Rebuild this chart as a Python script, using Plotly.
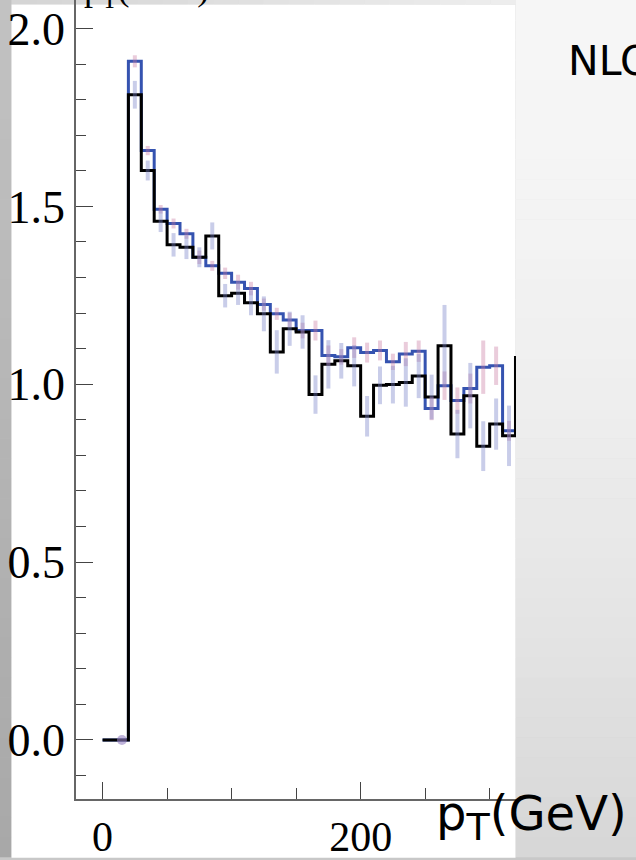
import plotly.graph_objects as go

# --- histogram data: ratio per 10 GeV bin of p_T -------------------------
bin_width = 10
nlo_edges = [0, 10, 20, 30, 40, 50, 60, 70, 80, 90, 100, 110, 120, 130, 140, 150,
             160, 170, 180, 190, 200, 210, 220, 230, 240, 250, 260, 270, 280, 290,
             300, 310, 320]
nlo_values = [0.0, 0.0, 1.814, 1.601, 1.458, 1.392, 1.385, 1.357, 1.417, 1.249,
              1.256, 1.229, 1.198, 1.091, 1.156, 1.147, 0.971, 1.056, 1.066, 1.052,
              0.910, 0.997, 0.999, 1.005, 1.023, 0.964, 1.108, 0.860, 0.968, 0.826,
              0.888, 0.855, 1.075]
nlo_errors = [0.0, 0.0, 0.039, 0.028, 0.030, 0.033, 0.033, 0.028, 0.038, 0.033,
              0.033, 0.035, 0.049, 0.061, 0.048, 0.047, 0.054, 0.068, 0.050, 0.058,
              0.057, 0.053, 0.053, 0.068, 0.062, 0.063, 0.115, 0.068, 0.092, 0.070,
              0.072, 0.085, 0.0]

lo_edges = [0, 10, 20, 30, 40, 50, 60, 70, 80, 90, 100, 110, 120, 130, 140, 150,
            160, 170, 180, 190, 200, 210, 220, 230, 240, 250, 260, 270, 280, 290,
            300, 310]
lo_values = [0.0, 0.0, 1.908, 1.657, 1.492, 1.452, 1.423, 1.357, 1.333, 1.312,
             1.287, 1.269, 1.224, 1.198, 1.181, 1.151, 1.151, 1.081, 1.077, 1.103,
             1.089, 1.095, 1.063, 1.085, 1.093, 0.932, 0.996, 0.954, 0.988, 1.048,
             1.052, 0.869]
lo_errors = [0.0, 0.0, 0.017, 0.013, 0.012, 0.014, 0.014, 0.019, 0.014, 0.016,
             0.021, 0.019, 0.017, 0.017, 0.020, 0.022, 0.028, 0.028, 0.022, 0.029,
             0.028, 0.028, 0.023, 0.034, 0.030, 0.033, 0.040, 0.037, 0.042, 0.075,
             0.054, 0.028]

empty_bin_center = [15]
empty_bin_value = [0.0]

x_ticks = [0, 200]
y_ticks = [0.0, 0.5, 1.0, 1.5, 2.0]

# --- page geometry -------------------------------------------------------
W, H = 636, 860
ML, MR, MT, MB = 76, 120, 0, 58
PW, PH = W - ML - MR, H - MT - MB


def px_x(px):
    return (px - ML) / PW


def px_y(py):
    return (H - MB - py) / PH


def step_xy(edges, values, width):
    xs = list(edges) + [edges[-1] + width]
    ys = list(values) + [values[-1]]
    return xs, ys


def bar_segments(edges, values, errors, width):
    xs, ys = [], []
    for e, v, err in zip(edges, values, errors):
        if err == 0:
            continue
        c = e + width / 2
        xs += [c, c, None]
        ys += [v - err, v + err, None]
    return xs, ys


fig = go.Figure()

lx, ly = step_xy(lo_edges, lo_values, bin_width)
fig.add_trace(go.Scatter(x=lx, y=ly, mode="lines", line_shape="hv",
                         line=dict(color="#3553b0", width=3), hoverinfo="skip"))

nx, ny = step_xy(nlo_edges, nlo_values, bin_width)
fig.add_trace(go.Scatter(x=nx, y=ny, mode="lines", line_shape="hv",
                         line=dict(color="#000000", width=3), hoverinfo="skip"))

ex, ey = bar_segments(lo_edges, lo_values, lo_errors, bin_width)
fig.add_trace(go.Scatter(x=ex, y=ey, mode="lines",
                         line=dict(color="rgba(200,120,160,0.38)", width=4),
                         hoverinfo="skip"))

ex, ey = bar_segments(nlo_edges, nlo_values, nlo_errors, bin_width)
fig.add_trace(go.Scatter(x=ex, y=ey, mode="lines",
                         line=dict(color="rgba(120,130,200,0.4)", width=4),
                         hoverinfo="skip"))

fig.add_trace(go.Scatter(x=empty_bin_center, y=empty_bin_value, mode="markers",
                         marker=dict(color="rgba(150,130,195,0.6)", size=10),
                         hoverinfo="skip"))

# --- slide background: grey gradients around a white panel ---------------
shapes = []
n = 43
for i in range(n):
    y0 = i * H / n
    y1 = (i + 1) * H / n + 0.5
    t = (y0 + y1) / 2 / H
    v = int(round(246 - 32 * t ** 1.8))
    shapes.append(dict(type="rect", xref="paper", yref="paper", layer="below",
                       x0=px_x(515.5), x1=px_x(W + 1), y0=px_y(y0), y1=px_y(y1),
                       fillcolor=f"rgb({v},{v},{v})", line=dict(width=0)))
    v2 = int(round(194 - 26 * t))
    shapes.append(dict(type="rect", xref="paper", yref="paper", layer="below",
                       x0=px_x(-1), x1=px_x(11.5), y0=px_y(y0), y1=px_y(y1),
                       fillcolor=f"rgb({v2},{v2},{v2})", line=dict(width=0)))
m = 20
for i in range(m):
    x0 = 11.5 + i * (515.5 - 11.5) / m
    x1 = 11.5 + (i + 1) * (515.5 - 11.5) / m + 0.5
    v = int(round(212 + 26 * (i + 0.5) / m))
    shapes.append(dict(type="rect", xref="paper", yref="paper", layer="below",
                       x0=px_x(x0), x1=px_x(x1), y0=px_y(-1), y1=px_y(4.5),
                       fillcolor=f"rgb({v},{v},{v})", line=dict(width=0)))
shapes.append(dict(type="rect", xref="paper", yref="paper", layer="below",
                   x0=px_x(11.5), x1=px_x(515.5), y0=px_y(4.5), y1=px_y(H + 1),
                   fillcolor="#ffffff", line=dict(width=0)))

serif = "Liberation Serif, Times New Roman, serif"
sans = "DejaVu Sans, Verdana, sans-serif"

annotations = [
    dict(text="NLO", xref="paper", yref="paper", x=px_x(566), y=px_y(35),
         xanchor="left", yanchor="top", showarrow=False,
         font=dict(family=sans, size=41, color="#000")),
    dict(text="p<sub><span style='font-size:38px'>T</span></sub>(GeV)",
         xref="paper", yref="paper", x=px_x(434),
         y=px_y(H - 6), xanchor="left", yanchor="bottom", showarrow=False,
         font=dict(family=sans, size=48, color="#000")),
    dict(text="dp<sub>T</sub>(GeV)", xref="paper", yref="paper", x=px_x(64),
         y=px_y(15), xanchor="left", yanchor="bottom", showarrow=False,
         font=dict(family=serif, size=36, color="#000")),
]

fig.update_layout(
    width=W, height=H,
    margin=dict(l=ML, r=MR, t=MT, b=MB, pad=0),
    paper_bgcolor="#c8c8c8",
    plot_bgcolor="rgba(0,0,0,0)",
    showlegend=False,
    shapes=shapes,
    annotations=annotations,
    xaxis=dict(range=[-20.6, 320.4], tickmode="array", tickvals=x_ticks,
               ticktext=[str(v) for v in x_ticks],
               ticks="inside", ticklen=17, tickwidth=1.3, tickcolor="#444",
               showline=True, linecolor="#666", linewidth=1.5,
               showgrid=False, zeroline=False,
               minor=dict(dtick=50, tick0=0, ticks="inside", ticklen=11,
                          tickwidth=1.3, tickcolor="#444", showgrid=False),
               tickfont=dict(family=serif, size=42, color="#000")),
    yaxis=dict(range=[-0.1661, 2.0804], tickmode="array", tickvals=y_ticks,
               ticktext=[f"{v:.1f}" for v in y_ticks],
               ticks="inside", ticklen=17, tickwidth=1.3, tickcolor="#444",
               showline=True, linecolor="#666", linewidth=1.5,
               showgrid=False, zeroline=False,
               minor=dict(dtick=0.1, tick0=0, ticks="inside", ticklen=10,
                          tickwidth=1.3, tickcolor="#444", showgrid=False),
               tickfont=dict(family=serif, size=46, color="#000")),
)

fig.write_html("out.html")
